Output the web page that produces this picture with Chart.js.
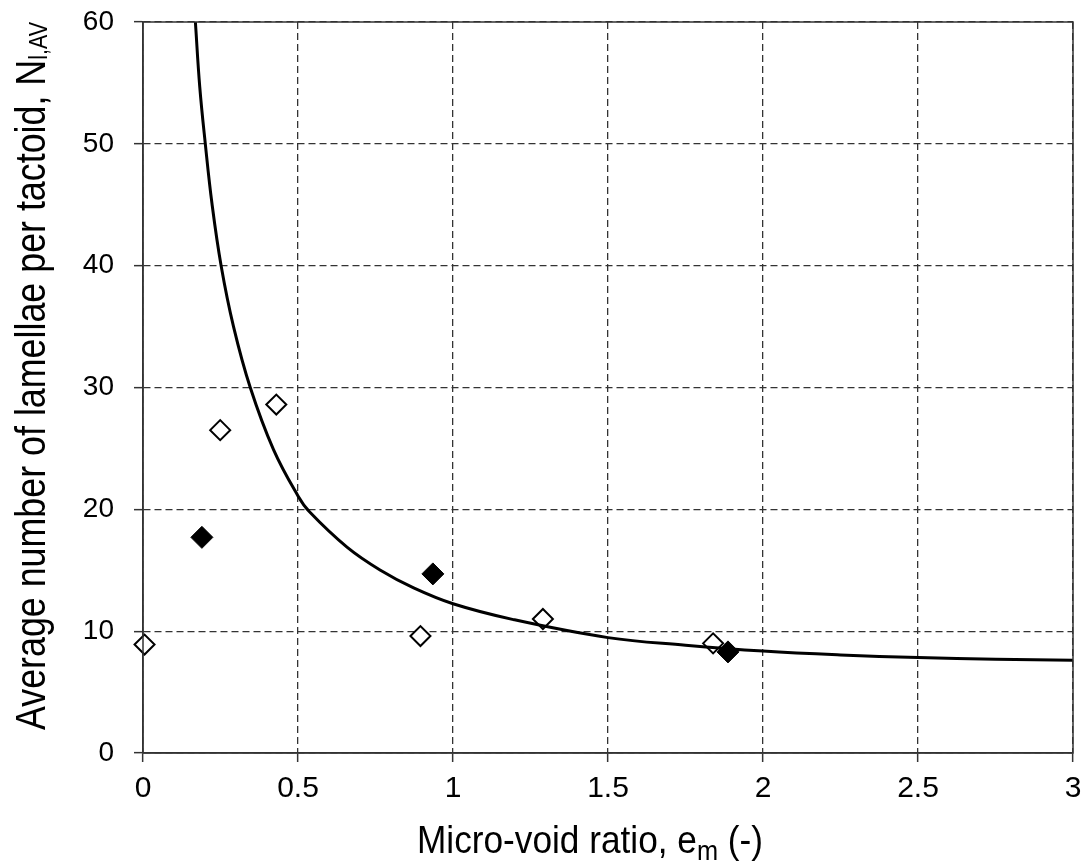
<!DOCTYPE html>
<html>
<head>
<meta charset="utf-8">
<script src="https://cdn.jsdelivr.net/npm/chart.js@4"></script>
<style>
  html, body { margin: 0; padding: 0; background: #fff; }
  #wrap { width: 1086px; height: 867px; }
</style>
</head>
<body>
<div id="wrap"><canvas id="chart" width="1086" height="867"></canvas></div>
<script>
// tick labels
const xTicks = [0, 0.5, 1, 1.5, 2, 2.5, 3];
const yTicks = [0, 10, 20, 30, 40, 50, 60];

// open diamonds
const openX = [0.005, 0.249, 0.430, 0.895, 1.290, 1.839];
const openY = [8.9, 26.5, 28.6, 9.6, 11.0, 9.0];

// filled diamonds
const filledX = [0.190, 0.935, 1.887];
const filledY = [17.7, 14.7, 8.3];

// fitted curve
const curveX = [0.169, 0.183, 0.201, 0.2225, 0.252, 0.292, 0.346, 0.421, 0.5, 0.537, 0.658, 0.766, 0.873, 1.0, 1.195, 1.5, 1.75, 2.0, 2.25, 2.5, 2.75, 3.0];
const curveY = [60, 54.7, 50, 45.1, 40, 35.0, 30, 24.9, 21.1, 19.8, 16.9, 15.0, 13.55, 12.25, 10.95, 9.47, 8.85, 8.37, 8.05, 7.83, 7.7, 7.61];

const FONT = '"Liberation Sans", Arial, sans-serif';
const toPts = (xs, ys) => xs.map((x, i) => ({ x: x, y: ys[i] }));

// draws a run of text parts (some subscript) centred on 0, baseline at 0
function drawParts(ctx, parts, size, fitWidth, scaleY) {
    let widths = parts.map(p => {
        ctx.font = (p.sub ? size * p.sub : size) + 'px ' + FONT;
        return ctx.measureText(p.t).width;
    });
    let total = widths.reduce((a, b) => a + b, 0);
    let sx = fitWidth ? fitWidth / total : 1;
    ctx.scale(sx, scaleY);
    let x = -total / 2;
    parts.forEach((p, i) => {
        ctx.font = (p.sub ? size * p.sub : size) + 'px ' + FONT;
        ctx.fillText(p.t, x, p.sub ? p.dy : 0);
        x += widths[i];
    });
}

const framePlugin = {
    id: 'frame',
    afterDraw(chart) {
        const ctx = chart.ctx;
        const a = chart.chartArea;
        ctx.save();
        ctx.strokeStyle = '#333';
        ctx.lineWidth = 1.5;
        ctx.strokeRect(a.left, a.top, a.right - a.left, a.bottom - a.top);

        ctx.fillStyle = '#000';
        ctx.textAlign = 'left';
        ctx.textBaseline = 'alphabetic';

        // x title
        ctx.save();
        ctx.translate(590, 853);
        drawParts(ctx, [
            { t: 'Micro-void ratio, e' },
            { t: 'm', sub: 0.72, dy: 6.5 },
            { t: ' (-)' }
        ], 36, 346, 1.1);
        ctx.restore();

        // y title
        ctx.save();
        ctx.translate(45, 376);
        ctx.rotate(-Math.PI / 2);
        drawParts(ctx, [
            { t: 'Average number of lamellae per tactoid, N' },
            { t: 'l,AV', sub: 0.6, dy: 2 }
        ], 36, 708, 1.16);
        ctx.restore();

        ctx.restore();
    }
};

const ctx = document.getElementById('chart');

new Chart(ctx, {
    type: 'scatter',
    data: {
        datasets: [{
            data: toPts(curveX, curveY),
            showLine: true,
            borderColor: '#000',
            borderWidth: 3,
            pointRadius: 0,
            tension: 0.4,
            order: 0
        }, {
            data: toPts(filledX, filledY),
            pointStyle: 'rectRot',
            pointRadius: 11,
            backgroundColor: '#000',
            borderColor: '#000',
            borderWidth: 1,
            clip: false,
            order: 1
        }, {
            data: toPts(openX, openY),
            pointStyle: 'rectRot',
            pointRadius: 10,
            backgroundColor: '#fff',
            borderColor: '#000',
            borderWidth: 2,
            clip: false,
            order: 2
        }]
    },
    options: {
        responsive: false,
        animation: false,
        events: [],
        layout: { padding: { top: 22, right: 13, left: 0, bottom: 0 } },
        plugins: {
            legend: { display: false },
            tooltip: { enabled: false }
        },
        scales: {
            x: {
                type: 'linear',
                min: 0,
                max: 3,
                afterBuildTicks: s => { s.ticks = xTicks.map(v => ({ value: v })); },
                afterFit: s => { s.height = 114; s.paddingLeft = 0; s.paddingRight = 0; },
                ticks: {
                    color: '#000',
                    font: { family: FONT, size: 30 },
                    padding: 9,
                    maxRotation: 0,
                    callback: v => String(v)
                },
                grid: { color: '#333', lineWidth: 1.3, tickLength: 9, tickColor: '#333', tickWidth: 1.5 },
                border: { color: '#333', width: 1.5, dash: [7, 4] }
            },
            y: {
                type: 'linear',
                min: 0,
                max: 60,
                afterBuildTicks: s => { s.ticks = yTicks.map(v => ({ value: v })); },
                afterFit: s => { s.width = 143; s.paddingTop = 0; s.paddingBottom = 0; },
                ticks: {
                    color: '#000',
                    font: { family: FONT, size: 28 },
                    padding: 20,
                    callback: v => String(v)
                },
                grid: { color: '#333', lineWidth: 1.3, tickLength: 9, tickColor: '#333', tickWidth: 1.5 },
                border: { color: '#333', width: 1.5, dash: [7, 4] }
            }
        }
    },
    plugins: [framePlugin]
});
</script>
</body>
</html>
